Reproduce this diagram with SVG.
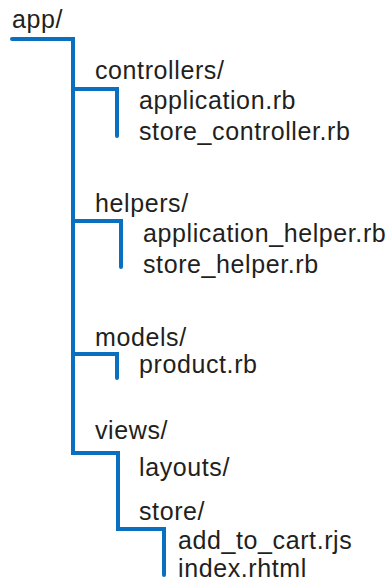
<svg xmlns="http://www.w3.org/2000/svg" width="392" height="584" viewBox="0 0 392 584">
<style>
.t{font-family:"Liberation Sans",Arial,Helvetica,sans-serif;font-size:25px;fill:#231f20;letter-spacing:0.6px}
.c{fill:none;stroke:#0b6fbf;stroke-width:4;stroke-linecap:round;stroke-linejoin:miter}
</style>
<rect width="392" height="584" fill="#ffffff"/>
<g id="connectors">
<path class="c" d="M12,39 H73 V453 H118 V529 H164 V575"/>
<path class="c" d="M73,89 H117 V136"/>
<path class="c" d="M73,221 H121 V267"/>
<path class="c" d="M73,354 H117 V378"/>
</g>
<g id="app"><text class="t" x="12" y="28">app/</text></g>
<g id="controllers"><text class="t" x="95" y="79">controllers/</text></g>
<g id="application_rb"><text class="t" x="139" y="109">application.rb</text></g>
<g id="store_controller_rb"><text class="t" x="139" y="140">store_controller.rb</text></g>
<g id="helpers"><text class="t" x="95" y="212">helpers/</text></g>
<g id="application_helper_rb"><text class="t" x="143" y="242">application_helper.rb</text></g>
<g id="store_helper_rb"><text class="t" x="143" y="273">store_helper.rb</text></g>
<g id="models"><text class="t" x="95" y="346">models/</text></g>
<g id="product_rb"><text class="t" x="139" y="373">product.rb</text></g>
<g id="views"><text class="t" x="95" y="439">views/</text></g>
<g id="layouts"><text class="t" x="139" y="476">layouts/</text></g>
<g id="store"><text class="t" x="139" y="520">store/</text></g>
<g id="add_to_cart_rjs"><text class="t" x="178" y="549">add_to_cart.rjs</text></g>
<g id="index_rhtml"><text class="t" x="178" y="577">index.rhtml</text></g>
</svg>
